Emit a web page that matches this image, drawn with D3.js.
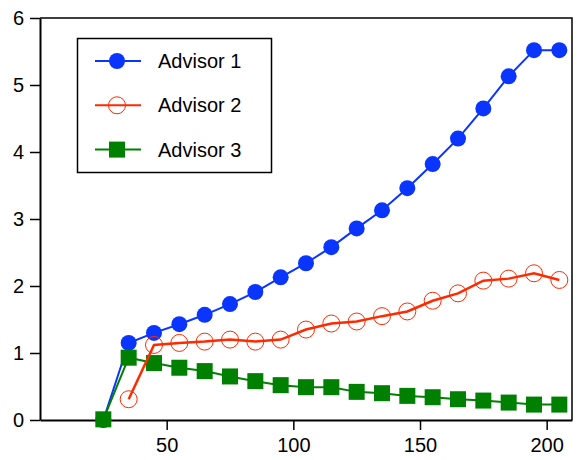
<!DOCTYPE html>
<html>
<head>
<script src="https://cdn.jsdelivr.net/npm/d3@7"></script>
<style>
  body { margin: 0; background: #fff; }
  text { font-family: "Liberation Sans", Arial, sans-serif; }
</style>
</head>
<body>
<svg id="chart"></svg>
<script>
// data
var xTicks = [50, 100, 150, 200];
var yTicks = [0, 1, 2, 3, 4, 5, 6];

var advisor1X = [25, 35, 45, 55, 65, 75, 85, 95, 105, 115, 125, 135, 145, 155, 165, 175, 185, 195, 205];
var advisor1Y = [0, 1.15, 1.30, 1.43, 1.57, 1.73, 1.91, 2.13, 2.34, 2.58, 2.86, 3.13, 3.46, 3.82, 4.20, 4.65, 5.13, 5.52, 5.52];

var advisor2X = [35, 45, 55, 65, 75, 85, 95, 105, 115, 125, 135, 145, 155, 165, 175, 185, 195, 205];
var advisor2Y = [0.31, 1.12, 1.15, 1.17, 1.20, 1.17, 1.20, 1.35, 1.44, 1.47, 1.55, 1.62, 1.78, 1.89, 2.08, 2.11, 2.19, 2.09];

var advisor3X = [25, 35, 45, 55, 65, 75, 85, 95, 105, 115, 125, 135, 145, 155, 165, 175, 185, 195, 205];
var advisor3Y = [0.01, 0.93, 0.85, 0.78, 0.73, 0.65, 0.58, 0.52, 0.49, 0.49, 0.42, 0.40, 0.36, 0.34, 0.31, 0.29, 0.26, 0.23, 0.23];

var names = ["Advisor 1", "Advisor 2", "Advisor 3"];
var colors = ["#0a35ff", "#ff2a00", "#008000"];

var width = 578, height = 460;
var svg = d3.select("#chart").attr("width", width).attr("height", height);

var x = d3.scaleLinear().domain([0, 210]).range([40, 572]);
var y = d3.scaleLinear().domain([0, 6]).range([420, 18]);

// frame (top + right)
svg.append("path")
  .attr("d", "M" + x(0) + "," + y(6) + "H" + x(210) + "V" + y(0))
  .attr("fill", "none").attr("stroke", "#000").attr("stroke-width", 1.5);

var xAxis = svg.append("g")
  .attr("transform", "translate(0," + y(0) + ")")
  .call(d3.axisBottom(x).tickValues(xTicks).tickFormat(d3.format("d"))
    .tickSize(10).tickPadding(8).tickSizeOuter(0));
var yAxis = svg.append("g")
  .attr("transform", "translate(" + x(0) + ",0)")
  .call(d3.axisLeft(y).tickValues(yTicks).tickFormat(d3.format("d"))
    .tickSize(10).tickPadding(6).tickSizeOuter(0));

[xAxis, yAxis].forEach(function (a) {
  a.select(".domain").attr("stroke", "#000").attr("stroke-width", 2);
  a.selectAll(".tick line").attr("stroke", "#000").attr("stroke-width", 1.5);
  a.selectAll(".tick text").attr("fill", "#000").style("font-size", "20px")
    .style("font-family", "'Liberation Sans', Arial, sans-serif");
});

function toPoints(xs, ys) {
  return xs.map(function (v, i) { return [v, ys[i]]; });
}

var line = d3.line()
  .x(function (d) { return x(d[0]); })
  .y(function (d) { return y(d[1]); });

var series = [
  toPoints(advisor1X, advisor1Y),
  toPoints(advisor2X, advisor2Y),
  toPoints(advisor3X, advisor3Y)
];

function drawMarker(g, k, cx, cy) {
  if (k === 0) {
    g.append("circle").attr("cx", cx).attr("cy", cy).attr("r", 8).attr("fill", colors[0]);
  } else if (k === 1) {
    g.append("circle").attr("cx", cx).attr("cy", cy).attr("r", 8.5)
      .attr("fill", "none").attr("stroke", colors[1]).attr("stroke-width", 1);
  } else {
    g.append("rect").attr("x", cx - 8).attr("y", cy - 8).attr("width", 16).attr("height", 16)
      .attr("fill", colors[2]);
  }
}

// draw order: blue, green, red
[0, 2, 1].forEach(function (k) {
  var g = svg.append("g");
  g.append("path").datum(series[k])
    .attr("d", line)
    .attr("fill", "none")
    .attr("stroke", colors[k])
    .attr("stroke-width", k === 1 ? 2.5 : 2);
  series[k].forEach(function (d) {
    drawMarker(g, k, x(d[0]), y(d[1]));
  });
});

// legend
var legend = svg.append("g");
legend.append("rect")
  .attr("x", 77.5).attr("y", 38.5).attr("width", 194).attr("height", 134)
  .attr("fill", "#fff").attr("stroke", "#000").attr("stroke-width", 1.5);

names.forEach(function (name, k) {
  var ly = 61 + k * 44.3;
  var row = legend.append("g");
  row.append("line").attr("x1", 95).attr("x2", 141).attr("y1", ly).attr("y2", ly)
    .attr("stroke", colors[k]).attr("stroke-width", 2);
  drawMarker(row, k, 117, ly);
  row.append("text").attr("x", 158).attr("y", ly + 7)
    .style("font-size", "20px").attr("fill", "#000").text(name);
});
</script>
</body>
</html>
